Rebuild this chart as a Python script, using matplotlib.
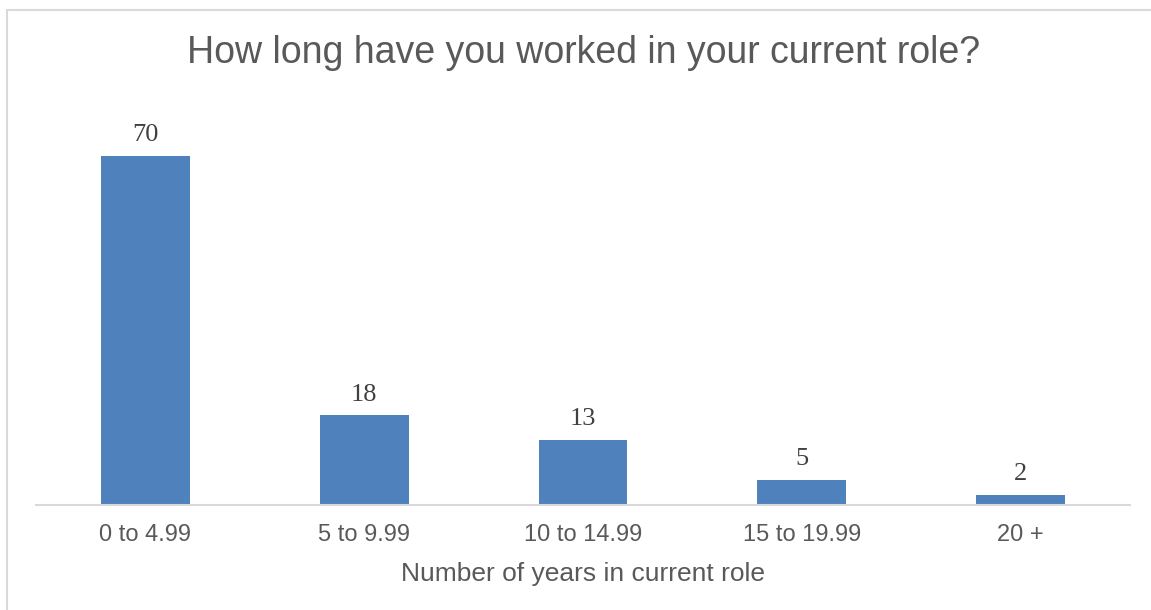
import matplotlib
matplotlib.use("Agg")
import matplotlib.pyplot as plt
from matplotlib.patches import Rectangle

categories = ["0 to 4.99", "5 to 9.99", "10 to 14.99", "15 to 19.99", "20 +"]
counts = [70, 18, 13, 5, 2]

title = "How long have you worked in your current role?"
xlabel = "Number of years in current role"

text_gray = "#595959"
bar_blue = "#4F81BD"
line_gray = "#D9D9D9"

fig = plt.figure(figsize=(11.51, 6.10), dpi=100)
ax = fig.add_axes([0.0313, 0.1721, 0.9505, 0.6541])

x = range(len(categories))
bars = ax.bar(x, counts, width=0.406, color=bar_blue, zorder=2)
ax.set_xlim(-0.5, len(categories) - 0.5)
ax.set_ylim(0, 80)

for b, v in zip(bars, counts):
    ax.annotate(str(v), (b.get_x() + b.get_width() / 2, v), xytext=(0, 7),
                textcoords="offset points", ha="center", va="bottom",
                family="Liberation Serif", fontsize=19, color="#404040")

ax.set_xticks(list(x))
ax.set_xticklabels(categories, family="Liberation Sans", fontsize=17, color=text_gray)
ax.tick_params(axis="x", length=0, pad=14)
ax.set_yticks([])
for s in ["top", "right", "left"]:
    ax.spines[s].set_visible(False)
ax.spines["bottom"].set_color(line_gray)
ax.spines["bottom"].set_linewidth(1.5)

ax.set_xlabel(xlabel, family="Liberation Sans", fontsize=19, color=text_gray, labelpad=11)

fig.text(0.507, 0.913, title, ha="center", va="center",
         family="Liberation Sans", fontsize=27, color=text_gray)

fig.patches.append(Rectangle((7 / 1151, -0.05), 1.1, 1 - 10 / 610 + 0.05,
                             transform=fig.transFigure, fill=False,
                             edgecolor=line_gray, linewidth=1.5))

fig.savefig("out.png", dpi=100)
